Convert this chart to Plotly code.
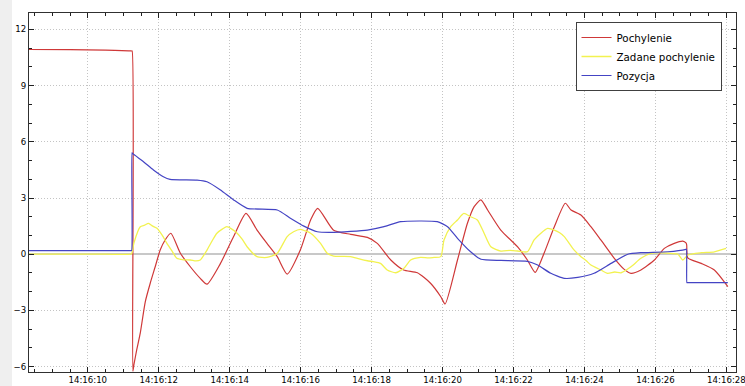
import pandas as pd
import plotly.graph_objects as go

# Sample times in seconds after 14:16:00, and the three measured signals
t_poch = [8.34, 9.5, 10.5, 11.19, 11.23, 11.25, 11.27, 11.30, 11.38, 11.48, 11.62, 11.76, 11.90, 12.04,
          12.18, 12.34, 12.61, 12.89, 13.17, 13.36, 13.74, 14.11, 14.46, 14.77, 15.05, 15.34, 15.62,
          15.99, 16.28, 16.48, 16.93, 17.41, 17.88, 18.16, 18.54, 18.90, 19.29, 19.66, 19.95, 20.07,
          20.42, 20.70, 20.89, 21.08, 21.27, 21.64, 22.11, 22.39, 22.61, 22.86, 23.15, 23.46, 23.62,
          23.90, 24.18, 24.46, 24.84, 25.12, 25.31, 25.59, 25.97, 26.25, 26.53, 26.77, 26.86, 26.88,
          26.91, 27.29, 27.66, 28.04]
pochylenie = [10.93, 10.92, 10.9, 10.86, 10.85, 10.85, -6.25, -5.9, -5.1, -4.2, -2.54, -1.55, -0.67, 0.22,
              0.76, 1.12, 0.05, -0.67, -1.29, -1.6, -0.49, 0.94, 2.18, 1.29, 0.58, -0.13, -1.06,
              0.22, 1.83, 2.45, 1.28, 1.06, 0.9, 0.58, -0.31, -0.84, -0.99, -1.55, -2.27, -2.66,
              -0.31, 1.65, 2.54, 2.9, 2.36, 1.29, 0.4, -0.31, -0.97, 0.05, 1.47, 2.72, 2.36,
              2.09, 1.47, 0.76, -0.22, -0.81, -1.02, -0.84, -0.31, 0.31, 0.58, 0.7, 0.6, 0.5,
              -0.2, -0.49, -0.84, -1.73]

t_zad = [8.34, 10.5, 11.20, 11.24, 11.30, 11.48, 11.60, 11.71, 11.83, 11.95, 12.10, 12.23, 12.38, 12.51,
         12.70, 12.89, 13.05, 13.17, 13.36, 13.50, 13.64, 13.80, 13.92, 14.05, 14.21, 14.35, 14.49,
         14.77, 15.05, 15.34, 15.62, 15.80, 15.99, 16.12, 16.28, 16.56, 16.75, 16.93, 17.15, 17.41,
         17.65, 17.88, 18.05, 18.25, 18.44, 18.68, 18.91, 19.10, 19.38, 19.60, 19.76, 19.95, 20.04,
         20.23, 20.42, 20.60, 20.79, 20.98, 21.17, 21.36, 21.64, 21.90, 22.11, 22.39, 22.58, 22.77,
         22.96, 23.15, 23.30, 23.43, 23.71, 23.90, 24.05, 24.18, 24.46, 24.65, 24.85, 25.03, 25.31,
         25.59, 25.88, 26.10, 26.35, 26.63, 26.77, 26.91, 27.29, 27.66, 27.99]
zadane = [0.0, 0.0, 0.0, 0.05, 0.6, 1.47, 1.55, 1.65, 1.5, 1.38, 1.0, 0.58, 0.15, -0.22,
          -0.3, -0.31, -0.36, -0.31, 0.22, 0.7, 1.12, 1.35, 1.47, 1.35, 1.12, 0.8, 0.4,
          -0.13, -0.17, 0.05, 0.94, 1.2, 1.33, 1.25, 1.12, 0.58, 0.05, -0.1, -0.12, -0.13,
          -0.25, -0.35, -0.4, -0.49, -0.84, -0.99, -0.75, -0.31, -0.17, -0.2, -0.17, -0.13, 0.76,
          1.47, 1.83, 2.18, 2.0, 1.83, 1.12, 0.4, 0.17, 0.2, 0.17, 0.13, 0.76, 1.12,
          1.38, 1.29, 1.15, 0.94, 0.22, -0.13, -0.35, -0.58, -0.84, -1.02, -0.95, -0.99, -0.67,
          -0.22, 0.05, 0.08, 0.05, 0.0, -0.31, -0.04, 0.08, 0.13, 0.31]

t_poz = [8.34, 10.5, 11.21, 11.235, 11.245, 11.26, 11.57, 11.85, 12.13, 12.32, 13.08, 13.36, 13.74, 14.11,
         14.49, 15.34, 15.71, 16.09, 16.47, 16.93, 17.88, 18.35, 18.82, 19.85, 20.14, 20.42, 20.79,
         21.08, 21.64, 22.39, 22.68, 23.05, 23.43, 23.81, 24.27, 24.75, 25.22, 25.59, 26.35, 26.86,
         26.875, 26.885, 26.90, 28.04]
pozycja = [0.19, 0.19, 0.19, 0.19, 5.42, 5.38, 4.94, 4.5, 4.14, 4.0, 3.96, 3.87, 3.43, 2.9,
           2.45, 2.36, 1.92, 1.5, 1.2, 1.17, 1.29, 1.47, 1.74, 1.74, 1.47, 0.85, 0.13,
           -0.27, -0.33, -0.38, -0.58, -1.02, -1.29, -1.24, -1.02, -0.49, 0.0, 0.08, 0.13, 0.26,
           0.27, -1.52, -1.52, -1.52]

x_tick_seconds = [10, 12, 14, 16, 18, 20, 22, 24, 26, 28]
y_ticks = [-6, -3, 0, 3, 6, 9, 12]

base = pd.Timestamp("2024-01-01 14:16:00")


def to_time(seconds):
    return base + pd.to_timedelta(seconds, unit="s")


fig = go.Figure()
fig.add_trace(go.Scatter(x=to_time(t_poch), y=pochylenie, mode="lines", name="Pochylenie",
                         line=dict(color="#cf3838", width=1.2, shape="spline", smoothing=0.6)))
fig.add_trace(go.Scatter(x=to_time(t_zad), y=zadane, mode="lines", name="Zadane pochylenie",
                         line=dict(color="#f2f250", width=1.3, shape="spline", smoothing=0.6)))
fig.add_trace(go.Scatter(x=to_time(t_poz), y=pozycja, mode="lines", name="Pozycja",
                         line=dict(color="#4444c4", width=1.2, shape="spline", smoothing=0.5)))

axis_font = dict(family="DejaVu Sans", size=8.6, color="#000000")
tick_times = to_time(x_tick_seconds)

fig.update_layout(
    width=745, height=386,
    margin=dict(l=29, r=9, t=13, b=14, autoexpand=False),
    paper_bgcolor="#ffffff",
    plot_bgcolor="#ffffff",
    showlegend=True,
    legend=dict(x=0.773, y=0.975, xanchor="left", yanchor="top",
                bgcolor="#ffffff", bordercolor="#404040", borderwidth=1,
                font=dict(family="DejaVu Sans", size=10.3, color="#000000"),
                itemwidth=30, tracegroupgap=0),
    shapes=[dict(type="rect", xref="paper", yref="paper",
                 x0=-0.05, x1=-0.024, y0=-0.05, y1=1.05,
                 fillcolor="#efefef", line=dict(width=0), layer="below")],
)

fig.update_xaxes(
    type="date",
    range=[to_time(8.343), to_time(28.27)],
    tickvals=tick_times, ticktext=[t.strftime("%H:%M:%S") for t in tick_times],
    ticks="inside", ticklen=5, tickcolor="#202020", tickwidth=1,
    minor=dict(tick0=to_time(10), dtick=500, ticks="inside", ticklen=3,
               tickcolor="#202020", showgrid=False),
    showline=True, linecolor="#303030", linewidth=1, mirror="allticks",
    showgrid=True, gridcolor="#c4c4c4", griddash="1px,2px", gridwidth=1,
    tickfont=axis_font, automargin=False, ticklabeloverflow="allow",
)
fig.update_yaxes(
    range=[-6.29, 12.88],
    tickvals=y_ticks,
    ticks="inside", ticklen=5, tickcolor="#202020", tickwidth=1,
    minor=dict(dtick=1, tick0=0, ticks="inside", ticklen=3, tickcolor="#202020", showgrid=False),
    showline=True, linecolor="#303030", linewidth=1, mirror="allticks",
    showgrid=True, gridcolor="#c4c4c4", griddash="1px,2px", gridwidth=1,
    zeroline=True, zerolinecolor="#c8c8c8", zerolinewidth=2,
    tickfont=axis_font, automargin=False,
)

fig.write_html("out.html")
